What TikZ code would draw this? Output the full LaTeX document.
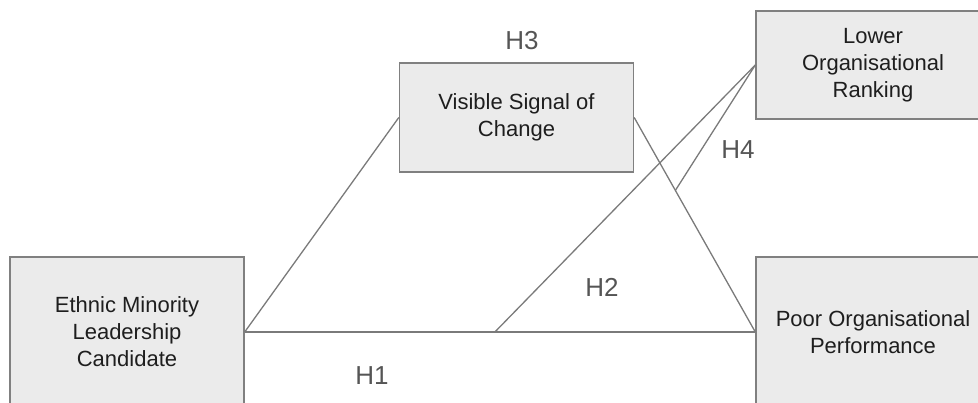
\documentclass[tikz,border=0pt]{standalone}
\usepackage{fontspec}
\setmainfont{Liberation Sans}
\usetikzlibrary{
    positioning,
    calc
}
\definecolor{boxfill}{HTML}{EBEBEB}
\definecolor{boxline}{HTML}{808080}
\definecolor{linkline}{HTML}{7A7A7A}
\definecolor{hyptext}{HTML}{555555}
\definecolor{factortext}{HTML}{1E1E1E}
\tikzset{
    factor/.style={
        draw=boxline,
        fill=boxfill,
        line width=1.4pt,
        minimum width=234pt,
        align=center,
        inner sep=2pt,
        text=factortext,
        font=\fontsize{22}{27}\selectfont
    },
    link/.style={
        draw=linkline,
        line width=1.3pt
    },
    hyp/.style={
        text=hyptext,
        font=\fontsize{26}{30}\selectfont
    }
}

\begin{document}
\begin{tikzpicture}[
    x=1pt,
    y=-1pt
]

    \useasboundingbox (0,0) rectangle (978,403);
    \clip (0,0) rectangle (978,403);

    % Factors
    \node[factor, minimum height=150pt] (ethnic)  at (127,332)   {Ethnic Minority\\Leadership\\Candidate};
    \node[factor, minimum height=109pt] (visible) at (516.5,117.5) {Visible Signal of\\Change};
    \node[factor, minimum height=108pt] (lower)   at (873,65)    {Lower\\Organisational\\Ranking};
    \node[factor, minimum height=150pt] (poor)    at (873,332)   {Poor Organisational\\Performance};

    % Feet of the branching links
    \coordinate (h2foot) at ($(ethnic.east)!0.49!(poor.west)$);
    \coordinate (h4foot) at ($(visible.east)!0.34!(poor.west)$);

    % Links
    \path[link]
        (ethnic.east)
            edge (visible.west)
            edge (poor.west)
        (visible.east)
            edge (poor.west)
        (h2foot)
            edge (lower.west)
        (h4foot)
            edge (lower.west);

    % Hypotheses
    \node[hyp] (h1) at (372,376) {H1};
    \node[hyp] (h2) at (602,287) {H2};
    \node[hyp] (h3) at (522,41)  {H3};
    \node[hyp] (h4) at (738,150) {H4};

\end{tikzpicture}
\end{document}
